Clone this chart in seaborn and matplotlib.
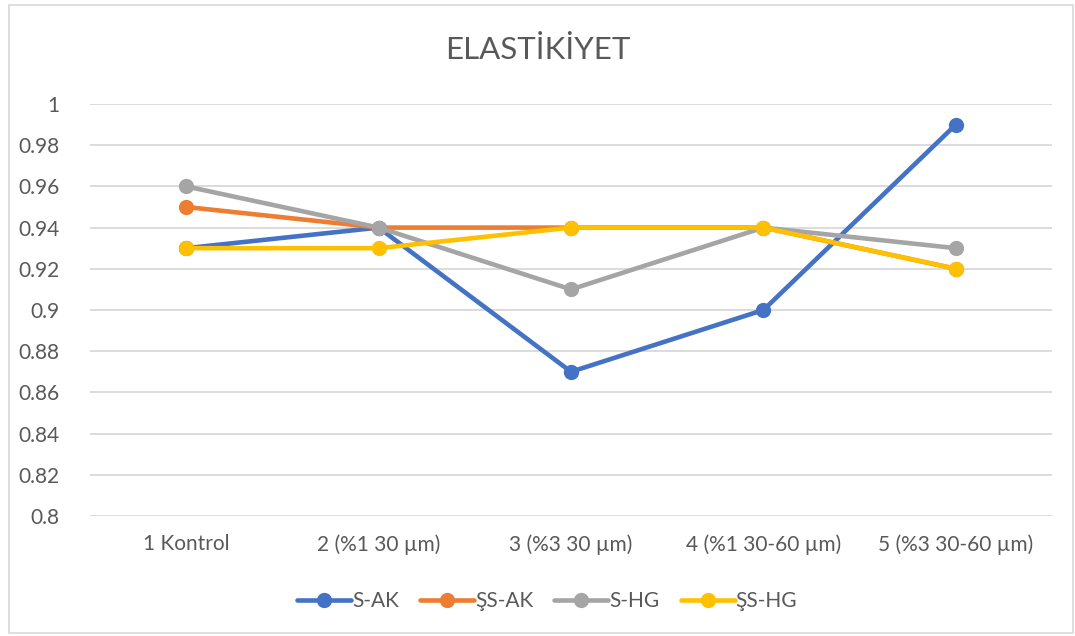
import pandas as pd
import matplotlib.pyplot as plt
import seaborn as sns
from matplotlib.patches import Rectangle

categories = ["1 Kontrol", "2 (%1 30 µm)", "3 (%3 30 µm)", "4 (%1 30-60 µm)", "5 (%3 30-60 µm)"]
s_ak = [0.93, 0.94, 0.87, 0.90, 0.99]
ss_ak = [0.95, 0.94, 0.94, 0.94, 0.92]
s_hg = [0.96, 0.94, 0.91, 0.94, 0.93]
ss_hg = [0.93, 0.93, 0.94, 0.94, 0.92]
series_names = ["S-AK", "ŞS-AK", "S-HG", "ŞS-HG"]
colors = ["#4472C4", "#ED7D31", "#A5A5A5", "#FFC000"]

rows = []
for name, vals in zip(series_names, [s_ak, ss_ak, s_hg, ss_hg]):
    for c, v in zip(categories, vals):
        rows.append({"kategori": c, "deger": v, "seri": name})
df = pd.DataFrame(rows)

sns.set_style("white")
plt.rcParams['font.family'] = ['Lato', 'DejaVu Sans']
txt = "#595959"

fig = plt.figure(figsize=(10.75, 6.36), dpi=100)
ax = fig.add_axes([0.0837, 0.1887, 0.895, 0.6478])

sns.lineplot(data=df, x="kategori", y="deger", hue="seri", palette=colors,
             marker="o", markersize=11, markeredgewidth=0, linewidth=3.3,
             sort=False, ax=ax)

ax.set_xlim(-0.5, 4.5)
ax.set_ylim(0.8, 1.0)
ax.set_yticks([0.8 + 0.02 * i for i in range(11)])
ax.set_yticklabels(["0.8", "0.82", "0.84", "0.86", "0.88", "0.9", "0.92", "0.94", "0.96", "0.98", "1"])
ax.yaxis.grid(True, color="#D9D9D9", linewidth=1.3)
ax.set_axisbelow(True)
for sp in ax.spines.values():
    sp.set_visible(False)
ax.tick_params(axis="both", length=0, labelsize=15, colors=txt)
ax.tick_params(axis="y", pad=22)
ax.tick_params(axis="x", pad=13)
ax.set_xlabel("")
ax.set_ylabel("")

fig.text(0.5, 0.921, "ELASTİKİYET", ha="center", va="center", fontsize=22.5, color=txt)

handles, labels = ax.get_legend_handles_labels()
for h in handles:
    h.set_linewidth(3.3)
    h.set_markersize(11)
leg = ax.legend(handles, labels, loc="center", bbox_to_anchor=(0.509, 0.055),
                bbox_transform=fig.transFigure, ncol=4, frameon=False, fontsize=15,
                labelcolor=txt, handlelength=2.6, handletextpad=0.05, columnspacing=1.0)

fig.patches.append(Rectangle((0.008, 0.004), 0.99, 0.988, transform=fig.transFigure,
                             fill=False, edgecolor="#D9D9D9", linewidth=1.2))

fig.savefig("out.png", dpi=100)
